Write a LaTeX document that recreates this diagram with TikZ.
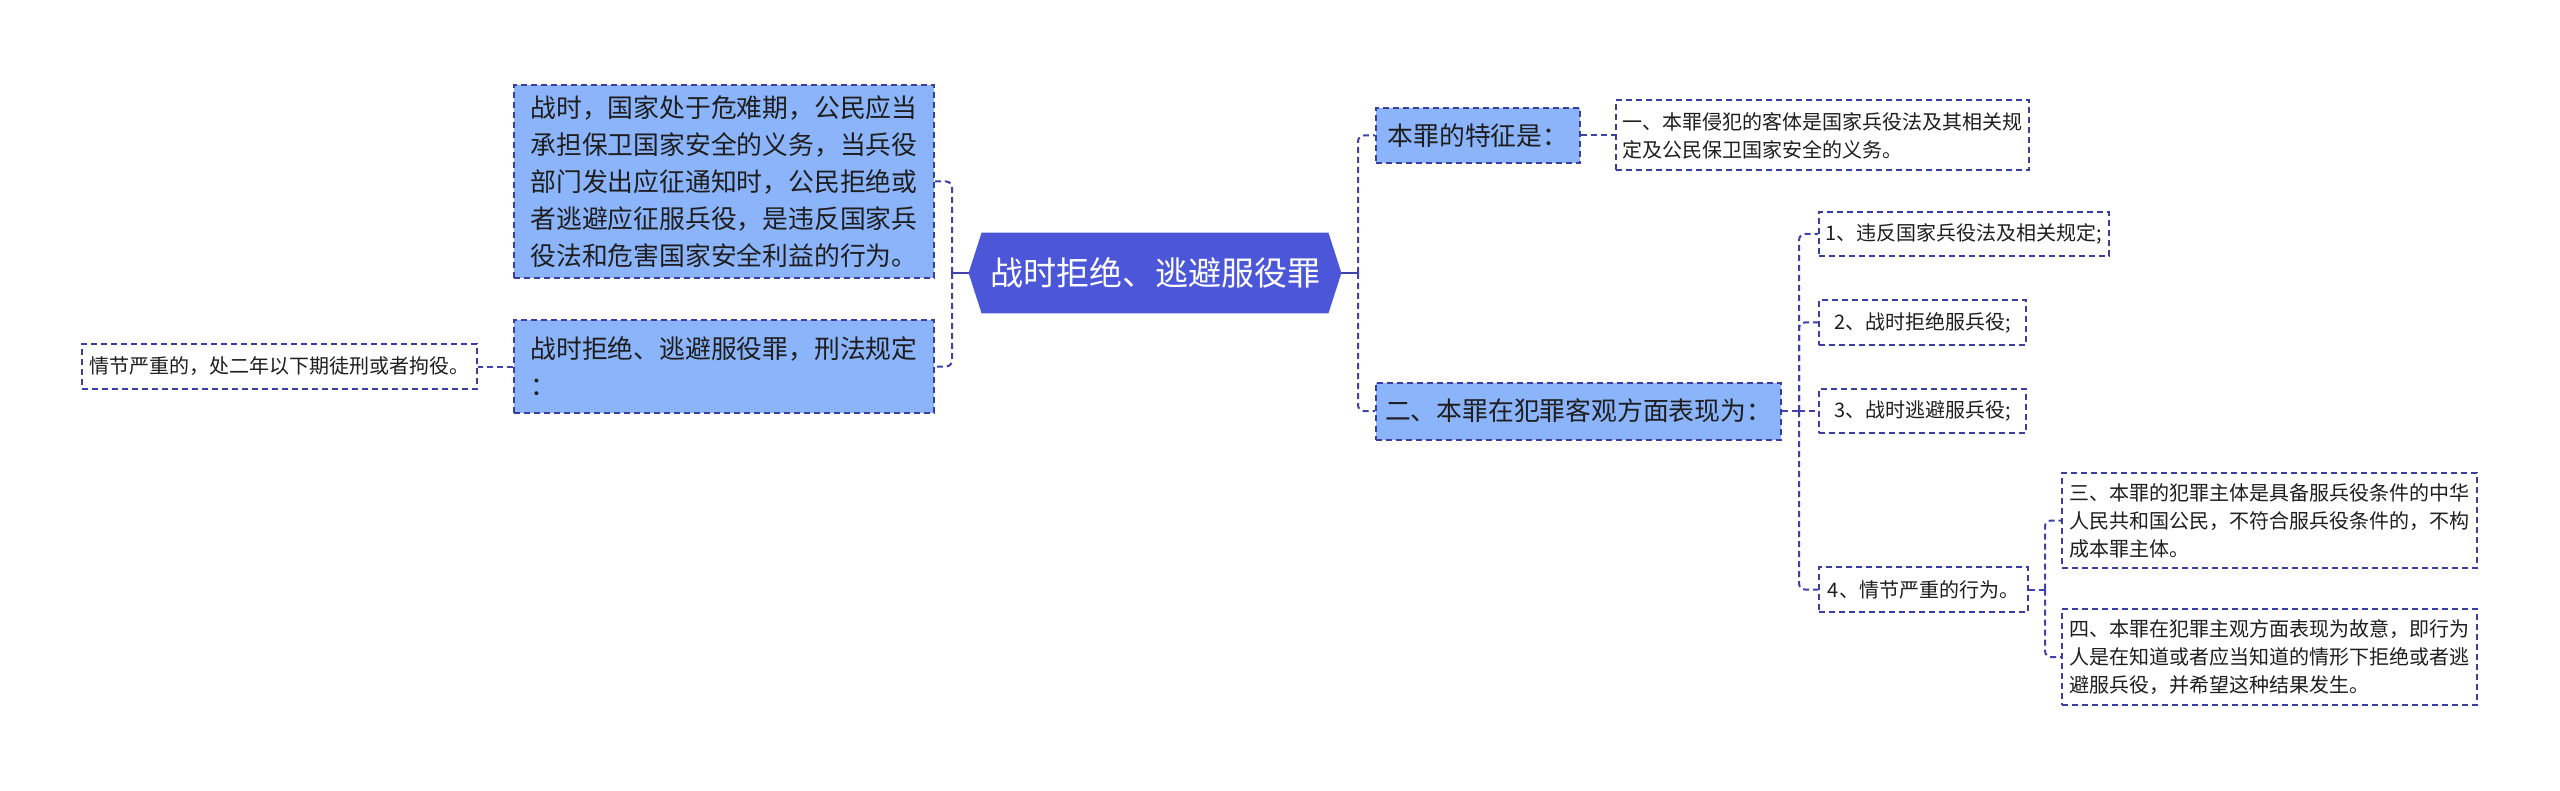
\documentclass[tikz,border=0pt]{standalone}
\usepackage{fontspec}
\setmainfont{Noto Sans CJK SC}
\usetikzlibrary{calc,backgrounds}
\definecolor{rootfill}{RGB}{76,86,217}
\definecolor{boxfill}{RGB}{139,180,250}
\definecolor{bordc}{RGB}{58,62,160}
\definecolor{linec}{RGB}{62,66,170}
\definecolor{textc}{RGB}{30,30,30}
\tikzset{
  dsh/.style={dash pattern=on 3pt off 2pt, line width=1pt},
  lvlbox/.style={fill=boxfill, draw=bordc, dsh, text=textc, align=left, inner sep=0pt,
    font=\fontsize{12.9}{18.5}\selectfont},
  leafbox/.style={fill=white, draw=bordc, dsh, text=textc, align=left, inner sep=0pt,
    font=\fontsize{10}{14}\selectfont},
  link/.style={draw=linec, dsh, rounded corners=3pt},
  stub/.style={draw=linec, line width=1.2pt},
}
\begin{document}
\begin{tikzpicture}[x=0.5pt,y=-0.5pt]
\useasboundingbox (0,0) rectangle (2560,791);
% root
\node[inner sep=0pt, minimum width=186pt, minimum height=40pt, text=white,
  font=\fontsize{16.5}{20}\selectfont] (root) at (1155,273) {战时拒绝、逃避服役罪};
\begin{scope}[on background layer]
\fill[white] (0,0) rectangle (2560,791);
\fill[rootfill] (root.west) -- ($(root.north west)+(13,0)$) -- ($(root.north east)+(-13,0)$)
  -- (root.east) -- ($(root.south east)+(-13,0)$) -- ($(root.south west)+(13,0)$) -- cycle;
\end{scope}
% left side
\node[lvlbox, minimum width=210pt, minimum height=96.5pt] (L1) at (724,181.5)
  {战时，国家处于危难期，公民应当\\承担保卫国家安全的义务，当兵役\\部门发出应征通知时，公民拒绝或\\者逃避应征服兵役，是违反国家兵\\役法和危害国家安全利益的行为。};
\node[lvlbox, minimum width=210pt, minimum height=46.5pt] (L2) at (724,366.5)
  {战时拒绝、逃避服役罪，刑法规定\\：};
\node[leafbox, minimum width=197.5pt, minimum height=22.5pt] (L3) at (279.5,366.5)
  {情节严重的，处二年以下期徒刑或者拘役。};
% right side
\node[lvlbox, minimum width=102pt, minimum height=27.5pt] (R1) at (1478,135.5)
  {本罪的特征是：};
\node[leafbox, minimum width=206.5pt, minimum height=35pt] (R1l) at (1822.5,135.5)
  {一、本罪侵犯的客体是国家兵役法及其相关规\\定及公民保卫国家安全的义务。};
\node[lvlbox, minimum width=202.5pt, minimum height=28.5pt] (R2) at (1578.5,411)
  {二、本罪在犯罪客观方面表现为：};
\node[leafbox, minimum width=145pt, minimum height=22pt] (C1) at (1964,234)
  {1、违反国家兵役法及相关规定;};
\node[leafbox, minimum width=103.5pt, minimum height=22.5pt] (C2) at (1922.5,322.5)
  {2、战时拒绝服兵役;};
\node[leafbox, minimum width=103.5pt, minimum height=22pt] (C3) at (1922.5,411)
  {3、战时逃避服兵役;};
\node[leafbox, minimum width=104.5pt, minimum height=22.5pt] (C4) at (1923.5,589.5)
  {4、情节严重的行为。};
\node[leafbox, minimum width=207.5pt, minimum height=47.5pt] (D1) at (2269.5,520.5)
  {三、本罪的犯罪主体是具备服兵役条件的中华\\人民共和国公民，不符合服兵役条件的，不构\\成本罪主体。};
\node[leafbox, minimum width=207.5pt, minimum height=48pt] (D2) at (2269.5,657)
  {四、本罪在犯罪主观方面表现为故意，即行为\\人是在知道或者应当知道的情形下拒绝或者逃\\避服兵役，并希望这种结果发生。};
% connectors
\coordinate (tL) at (952,273);
\coordinate (tR) at (1358,273);
\coordinate (t2) at (1799,411);
\coordinate (t4) at (2045,589.5);
\draw[stub] (root.west) -- (tL);
\draw[link] (tL) |- (L1.east);
\draw[link] (tL) |- (L2.east);
\draw[link] (L2.west) -- (L3.east);
\draw[stub] (root.east) -- (tR);
\draw[link] (tR) |- (R1.west);
\draw[link] (tR) |- (R2.west);
\draw[link] (R1.east) -- (R1l.west);
\draw[link] (R2.east) -- (t2);
\draw[link] (t2) |- (C1.west);
\draw[link] (t2) |- (C2.west);
\draw[link] (t2) -- (C3.west);
\draw[link] (t2) |- (C4.west);
\draw[link] (C4.east) -- (t4);
\draw[link] (t4) |- (D1.west);
\draw[link] (t4) |- (D2.west);
\end{tikzpicture}
\end{document}
